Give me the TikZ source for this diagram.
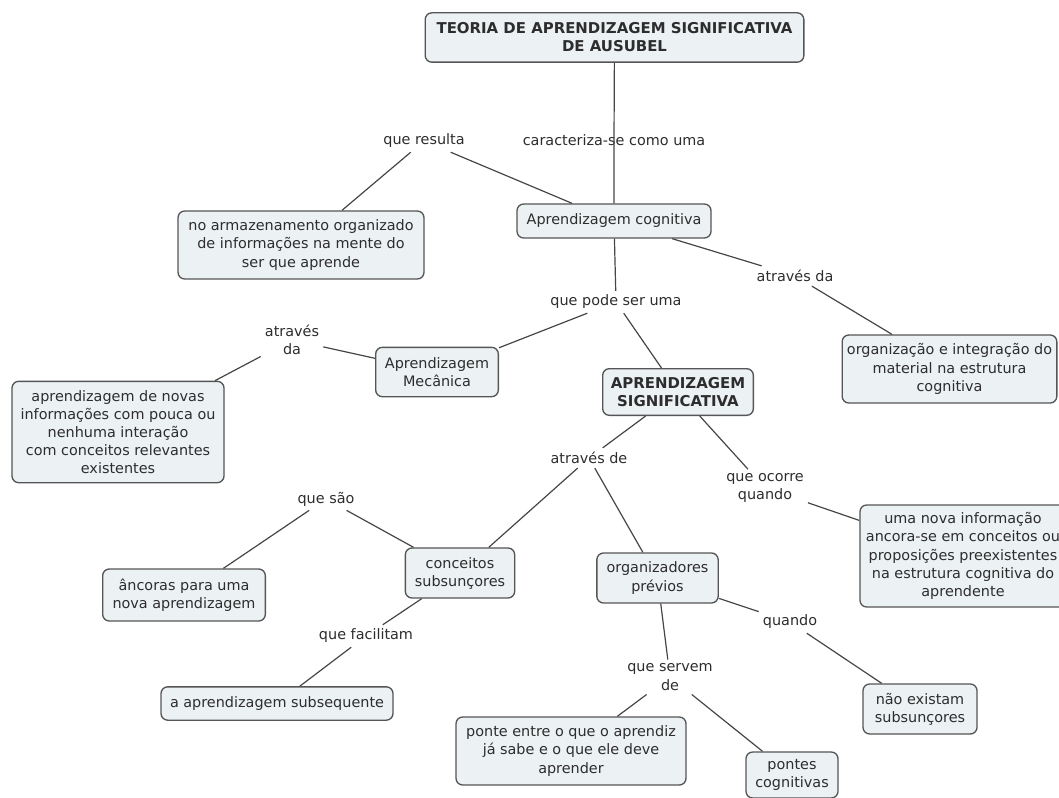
\documentclass[tikz,border=0pt]{standalone}
\usepackage{fontspec}
\setmainfont{DejaVu Sans}
\usepackage{tikz}
\definecolor{Kasten}{RGB}{236,241,244}
\definecolor{Rand}{RGB}{85,85,85}
\definecolor{Linie}{RGB}{70,70,70}
\definecolor{Schrift}{RGB}{45,45,45}

\begin{document}
\begin{tikzpicture}[x=0.75pt, y=-0.75pt,
		Konzept/.style={draw=Rand, line width=1pt, fill=Kasten, rounded corners=5pt, align=center, inner sep=2pt, text=Schrift, font=\fontsize{10.8}{13.6}\selectfont},
		Fett/.style={Konzept, font=\fontsize{11.2}{13.6}\selectfont\bfseries},
		Wort/.style={align=center, inner sep=3pt, text=Schrift, font=\fontsize{10.8}{13.6}\selectfont},
		Kante/.style={draw=Linie, line width=0.9pt}]
				\useasboundingbox (0,0) rectangle (1059,798);
				% Begriffe
				\node[Fett, minimum width=284pt, minimum height=37pt] (titulo) at (614.5,37.5) {TEORIA DE APRENDIZAGEM SIGNIFICATIVA\\DE AUSUBEL};
				\node[Konzept, minimum width=145.5pt, minimum height=25.5pt] (cog) at (614,221) {Aprendizagem cognitiva};
				\node[Konzept, minimum width=184.5pt, minimum height=51pt] (armaz) at (301,245) {no armazenamento organizado\\de informações na mente do\\ser que aprende};
				\node[Konzept, minimum width=161pt, minimum height=51pt] (integ) at (949.5,369) {organização e integração do\\material na estrutura\\cognitiva};
				\node[Konzept, minimum width=92pt, minimum height=37pt] (mec) at (437,372) {Aprendizagem\\Mecânica};
				\node[Konzept, minimum width=159pt, minimum height=76pt] (mecdef) at (118,432) {aprendizagem de novas\\informações com pouca ou\\nenhuma interação\\com conceitos relevantes\\existentes};
				\node[Fett, minimum width=113pt, minimum height=35pt] (sig) at (678,392) {APRENDIZAGEM\\SIGNIFICATIVA};
				\node[Konzept, minimum width=154.5pt, minimum height=76.5pt] (ancora) at (963,556) {uma nova informação\\ancora-se em conceitos ou\\proposições preexistentes\\na estrutura cognitiva do\\aprendente};
				\node[Konzept, minimum width=82pt, minimum height=37.5pt] (subs) at (460,573) {conceitos\\subsunçores};
				\node[Konzept, minimum width=122pt, minimum height=39pt] (ancoras) at (184,595) {âncoras para uma\\nova aprendizagem};
				\node[Konzept, minimum width=174pt, minimum height=25pt] (subseq) at (277,703.5) {a aprendizagem subsequente};
				\node[Konzept, minimum width=91pt, minimum height=37.5pt] (previos) at (657.5,578) {organizadores\\prévios};
				\node[Konzept, minimum width=85.5pt, minimum height=37.5pt] (naoex) at (920,709) {não existam\\subsunçores};
				\node[Konzept, minimum width=172.5pt, minimum height=51pt] (ponte) at (571,751) {ponte entre o que o aprendiz\\já sabe e o que ele deve\\aprender};
				\node[Konzept, minimum width=69pt, minimum height=34.5pt] (pontes) at (792,775) {pontes\\cognitivas};
				% Verbindungswoerter
				\node[Wort] (caract) at (614,140) {caracteriza-se como uma};
				\node[Wort] (result) at (424,141) {que resulta};
				\node[Wort] (atrav1) at (795,276) {através da};
				\node[Wort] (pode) at (616,302) {que pode ser uma};
				\node[Wort] (atrav2) at (292,340) {através\\da};
				\node[Wort] (atravde) at (589,458) {através de};
				\node[Wort] (ocorre) at (765,488) {que ocorre\\quando};
				\node[Wort] (sao) at (326,499) {que são};
				\node[Wort] (facil) at (366,636) {que facilitam};
				\node[Wort] (quando) at (790,622) {quando};
				\node[Wort] (servem) at (670,677) {que servem\\de};
				% Linien
				\draw[Kante] (titulo) -- (caract.center) -- (cog);
				\draw[Kante] (cog) -- (result);
				\draw[Kante] (result) -- (armaz);
				\draw[Kante] (cog) -- (atrav1);
				\draw[Kante] (atrav1) -- (integ);
				\draw[Kante] (cog) -- (pode);
				\draw[Kante] (pode) -- (mec);
				\draw[Kante] (pode) -- (sig);
				\draw[Kante] (mec) -- (atrav2);
				\draw[Kante] (atrav2) -- (mecdef);
				\draw[Kante] (sig) -- (atravde);
				\draw[Kante] (atravde) -- (subs);
				\draw[Kante] (atravde) -- (previos);
				\draw[Kante] (sig) -- (ocorre);
				\draw[Kante] (ocorre) -- (ancora);
				\draw[Kante] (subs) -- (sao);
				\draw[Kante] (sao) -- (ancoras);
				\draw[Kante] (subs) -- (facil);
				\draw[Kante] (facil) -- (subseq);
				\draw[Kante] (previos) -- (quando);
				\draw[Kante] (quando) -- (naoex);
				\draw[Kante] (previos) -- (servem);
				\draw[Kante] (servem) -- (ponte);
				\draw[Kante] (servem) -- (pontes);
\end{tikzpicture}
\end{document}
